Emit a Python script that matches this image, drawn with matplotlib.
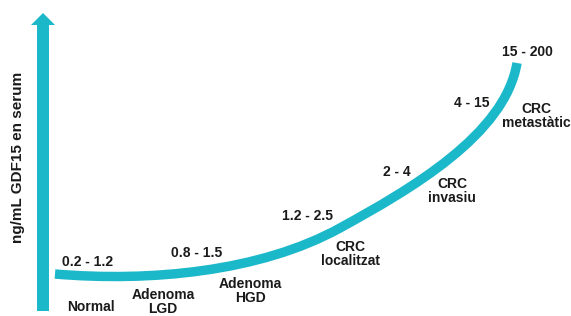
import matplotlib.pyplot as plt
from matplotlib.path import Path
from matplotlib.patches import PathPatch

# =========================
# Configs
# =========================
OUTPUT_PATH = "out.png"
CYAN = "#1bb8ca"
TEXT = "#1a1a1a"

plt.rcParams['font.family'] = ['Liberation Sans', 'DejaVu Sans']

# =========================
# Data (pixel space)
# =========================
# curve drawn as two cubic Bezier pieces: node, ctrl, ctrl, node, ctrl, ctrl, node
curve_x = [55, 150, 260, 340, 410, 505, 517]
curve_y = [274, 282, 272, 228, 189.5, 135, 63]

ranges = ["0.2 - 1.2", "0.8 - 1.5", "1.2 - 2.5", "2 - 4", "4 - 15", "15 - 200"]
range_pos = [(88, 262), (197, 253), (308, 216), (397, 172), (472, 103), (527, 52)]

stages = ["Normal", "Adenoma\nLGD", "Adenoma\nHGD", "CRC\nlocalitzat", "CRC\ninvasiu", "CRC\nmetastàtic"]
stage_pos = [(91, 307), (163, 302), (250, 291), (350, 254), (452, 191), (536, 116)]

y_label = "ng/mL GDF15 en serum"


# =========================
# Plot
# =========================
def plot_gdf15():
    fig = plt.figure(figsize=(5.71, 3.16), dpi=100)
    ax = fig.add_axes([0, 0, 1, 1])
    ax.set_xlim(0, 571)
    ax.set_ylim(316, 0)
    ax.axis('off')

    # vertical arrow
    ax.arrow(43, 311, 0, -286, width=12, head_width=24, head_length=12,
             length_includes_head=False, color=CYAN, lw=0)

    ax.text(18, 157, y_label, rotation=90, ha='center', va='center',
            fontsize=11, fontweight='bold', color=TEXT)

    # curve
    codes = [Path.MOVETO] + [Path.CURVE4] * 6
    path = Path(list(zip(curve_x, curve_y)), codes)
    ax.add_patch(PathPatch(path, facecolor='none', edgecolor=CYAN, lw=6.8,
                           capstyle='butt'))

    for label, (x, y) in zip(ranges, range_pos):
        ax.text(x, y, label, ha='center', va='center',
                fontsize=10, fontweight='bold', color=TEXT)

    for label, (x, y) in zip(stages, stage_pos):
        ax.text(x, y, label, ha='center', va='center', linespacing=1.0,
                fontsize=10, fontweight='bold', color=TEXT)

    fig.savefig(OUTPUT_PATH, dpi=100, facecolor='white')
    plt.close(fig)


def main():
    plot_gdf15()
    print("Saved:", OUTPUT_PATH)


if __name__ == "__main__":
    main()
